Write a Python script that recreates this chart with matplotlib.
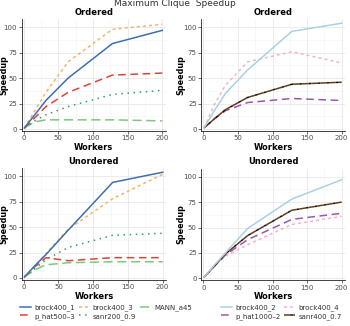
import matplotlib
matplotlib.use("Agg")
import matplotlib.pyplot as plt
from matplotlib.ticker import MultipleLocator
from matplotlib.lines import Line2D

workers = [1, 16, 32, 64, 128, 200]

# Ordered, left group
ord_brock400_1 = [1, 14, 28, 50, 84, 97]
ord_brock400_3 = [1, 18, 36, 66, 98, 103]
ord_MANN_a45 = [1, 7, 9, 9, 9, 8]
ord_p_hat500_3 = [1, 11, 22, 36, 53, 55]
ord_sanr200_0_9 = [1, 8, 14, 22, 34, 38]
# Ordered, right group
ord_brock400_2 = [1, 18, 35, 58, 96, 104]
ord_brock400_4 = [1, 24, 43, 66, 76, 65]
ord_p_hat1000_2 = [1, 10, 18, 26, 30, 28]
ord_sanr400_0_7 = [1, 10, 19, 31, 44, 46]

# Unordered, left group
un_brock400_1 = [1, 12, 23, 47, 94, 104]
un_brock400_3 = [1, 12, 24, 48, 78, 102]
un_MANN_a45 = [1, 8, 13, 15, 16, 16]
un_p_hat500_3 = [1, 11, 20, 17, 20, 20]
un_sanr200_0_9 = [1, 9, 18, 30, 42, 44]
# Unordered, right group
un_brock400_2 = [1, 13, 25, 49, 78, 97]
un_brock400_4 = [1, 12, 22, 33, 53, 61]
un_p_hat1000_2 = [1, 12, 23, 38, 58, 64]
un_sanr400_0_7 = [1, 12, 24, 42, 67, 75]

left_names = ["brock400_1", "brock400_3", "MANN_a45", "p_hat500\u20133", "sanr200_0.9"]
right_names = ["brock400_2", "brock400_4", "p_hat1000\u20132", "sanr400_0.7"]

left_styles = [
    dict(color="#3D6FB0", ls="-", lw=1.1),
    dict(color="#F7B26A", ls=(0, (2, 2)), lw=1.1),
    dict(color="#7CC87A", ls=(0, (6, 3)), lw=1.1),
    dict(color="#D9453A", ls=(0, (5, 3)), lw=1.1),
    dict(color="#3E9A6E", ls=(0, (1, 3)), lw=1.1),
]
right_styles = [
    dict(color="#A9D1E3", ls="-", lw=1.1),
    dict(color="#F6B3C3", ls=(0, (2, 2)), lw=1.1),
    dict(color="#9B56AE", ls=(0, (5, 3)), lw=1.1),
    dict(color="#6B3A14", ls=(0, (4, 2)), lw=1.1, gapcolor="#111111"),
]

W, H = 350, 326
fig = plt.figure(figsize=(W / 100, H / 100), dpi=100)


def add_ax(x0, x200, y0, y100):
    sx = (x200 - x0) / 200.0
    sy = (y0 - y100) / 100.0
    xl, xr = -3, 205
    yb, yt = -2, 108
    left = x0 + xl * sx
    right = x0 + xr * sx
    bottom = y0 - yb * sy
    top = y0 - yt * sy
    ax = fig.add_axes([left / W, 1 - bottom / H, (right - left) / W, (bottom - top) / H])
    ax.set_xlim(xl, xr)
    ax.set_ylim(yb, yt)
    return ax


def style(ax, title, ylabel_x):
    ax.set_facecolor("white")
    ax.xaxis.set_major_locator(MultipleLocator(50))
    ax.xaxis.set_minor_locator(MultipleLocator(25))
    ax.yaxis.set_major_locator(MultipleLocator(25))
    ax.yaxis.set_minor_locator(MultipleLocator(12.5))
    ax.grid(which="major", color="#E8E8E8", lw=0.6)
    ax.grid(which="minor", color="#F3F3F3", lw=0.4)
    ax.set_axisbelow(True)
    for s in ["top", "right"]:
        ax.spines[s].set_visible(False)
    for s in ["left", "bottom"]:
        ax.spines[s].set_color("#222222")
        ax.spines[s].set_linewidth(0.6)
    ax.tick_params(which="major", length=2, width=0.5, color="#333333",
                   labelsize=5, labelcolor="#4D4D4D", pad=1.2)
    ax.tick_params(which="minor", length=0)
    ax.set_title(title, fontsize=6, fontweight="bold", pad=3)
    ax.set_xlabel("Workers", fontsize=6, fontweight="bold", labelpad=1)
    ax.set_ylabel("Speedup", fontsize=5.8, fontweight="bold")
    pos = ax.get_position()
    ax.yaxis.set_label_coords((ylabel_x / W - pos.x0) / pos.width, 0.5)
    ax.yaxis.label.set_va("center")


ax1 = add_ax(23.7, 162.3, 129.0, 27.3)
ax2 = add_ax(203.3, 341.7, 129.0, 27.3)
ax3 = add_ax(23.7, 162.7, 278.0, 176.3)
ax4 = add_ax(203.3, 341.7, 278.3, 176.7)

for ax, t, lx in [(ax1, "Ordered", 4.3), (ax2, "Ordered", 180.5), (ax3, "Unordered", 4.3), (ax4, "Unordered", 180.5)]:
    style(ax, t, lx)

ord_left = [ord_brock400_1, ord_brock400_3, ord_MANN_a45, ord_p_hat500_3, ord_sanr200_0_9]
un_left = [un_brock400_1, un_brock400_3, un_MANN_a45, un_p_hat500_3, un_sanr200_0_9]
ord_right = [ord_brock400_2, ord_brock400_4, ord_p_hat1000_2, ord_sanr400_0_7]
un_right = [un_brock400_2, un_brock400_4, un_p_hat1000_2, un_sanr400_0_7]

order_left = [2, 4, 3, 1, 0]
for i in order_left:
    ax1.plot(workers, ord_left[i], **left_styles[i])
    ax3.plot(workers, un_left[i], **left_styles[i])
order_right = [1, 2, 3, 0]
for i in order_right:
    ax2.plot(workers, ord_right[i], **right_styles[i])
    ax4.plot(workers, un_right[i], **right_styles[i])

leg_left_order = [0, 3, 1, 4, 2]
lh = [Line2D([], [], **left_styles[i]) for i in leg_left_order]
leg1 = fig.legend(lh, [left_names[i] for i in leg_left_order], loc="upper left",
                  bbox_to_anchor=(20 / W, 1 - 304 / H),
                  ncol=3, fontsize=5, frameon=False, handlelength=1.6, handletextpad=0.4,
                  columnspacing=0.6, labelspacing=0.3, borderaxespad=0, borderpad=0)
for t in leg1.get_texts():
    t.set_color("#333333")

leg_right_order = [0, 2, 1, 3]
rh = [Line2D([], [], **right_styles[i]) for i in leg_right_order]
leg2 = fig.legend(rh, [right_names[i] for i in leg_right_order], loc="upper left",
                  bbox_to_anchor=(221 / W, 1 - 304 / H),
                  ncol=2, fontsize=5, frameon=False, handlelength=1.6, handletextpad=0.4,
                  columnspacing=0.6, labelspacing=0.3, borderaxespad=0, borderpad=0)
for t in leg2.get_texts():
    t.set_color("#333333")

fig.text(0.5, 1 - 4 / H, "Maximum Clique  Speedup", ha="center", va="center",
         fontsize=6.5, color="#333333")

fig.savefig("out.png", dpi=100)
